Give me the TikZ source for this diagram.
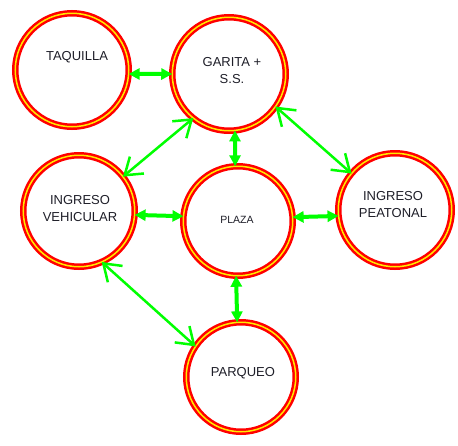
\documentclass[tikz,border=0pt]{standalone}
\usepackage{fontspec}
\setmainfont{Liberation Sans}
\usetikzlibrary{arrows.meta}
\definecolor{ringred}{RGB}{255,0,0}
\definecolor{ringyel}{RGB}{255,235,0}
\definecolor{arrgreen}{RGB}{0,255,0}
\definecolor{txt}{RGB}{30,30,40}
\tikzset{
  ring/.style={circle, draw=ringred, double=ringyel, line width=2.5pt, double distance=1.5pt, outer sep=0pt, inner sep=0pt},
  lbl/.style={font=\fontsize{13}{17}\selectfont, text=txt, align=center, inner sep=0pt},
  thickarrow/.style={draw=arrgreen, line width=4pt, {Triangle[length=11pt,width=11pt]}-{Triangle[length=11pt,width=11pt]}},
  thinarrow/.style={draw=arrgreen, line width=2.5pt, {Straight Barb[length=16pt,width=22pt]}-{Straight Barb[length=16pt,width=22pt]}}
}
\begin{document}
\begin{tikzpicture}[x=1pt,y=-1pt]
\useasboundingbox (0,0) rectangle (458,445);
% circles
\node[ring, minimum size=113.5pt] (taq) at (72,70) {};
\node[ring, minimum size=113.5pt] (gar) at (229,74) {};
\node[ring, minimum size=111.5pt] (veh) at (79,211) {};
\node[ring, minimum size=109.5pt] (pla) at (238,221) {};
\node[ring, minimum size=113.5pt] (pea) at (395,210) {};
\node[ring, minimum size=109.5pt] (par) at (241,377) {};
% labels
\node[lbl] (taqt) at (77,57) {TAQUILLA};
\node[lbl] (gart) at (232,70.5) {GARITA +\\S.S.};
\node[lbl] (veht) at (80,208.5) {INGRESO\\VEHICULAR};
\node[lbl, font=\fontsize{10.5}{13}\selectfont] (plat) at (237,220) {PLAZA};
\node[lbl] (peat) at (393,204.5) {INGRESO\\PEATONAL};
\node[lbl] (part) at (243,373) {PARQUEO};
% connectors
\draw[thickarrow] (taq.-4) -- (gar.180);
\draw[thickarrow] (veh.-4.8) -- (pla.175);
\draw[thickarrow] (pla.4) -- (pea.186.8);
\draw[thickarrow] (gar.-84.3) -- (pla.93);
\draw[thickarrow] (pla.-92) -- (par.94.8);
\draw[thinarrow] (gar.231.5) -- (veh.38.4);
\draw[thinarrow] (veh.-66.9) -- (par.146.3);
\draw[thinarrow] (gar.-35.3) -- (pea.140.6);
\end{tikzpicture}
\end{document}
